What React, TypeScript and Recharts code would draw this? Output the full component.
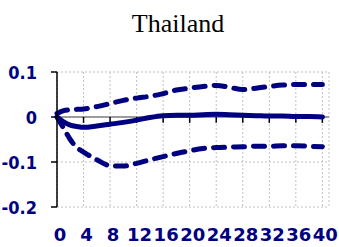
import React from "react";
import { LineChart, Line, XAxis, YAxis, CartesianGrid, ReferenceLine } from "recharts";

const horizon = [0, 1, 2, 3, 4, 6, 8, 10, 12, 14, 16, 18, 20, 22, 24, 26, 28, 30, 32, 34, 36, 38, 40];
const response = [0, -0.011, -0.018, -0.021, -0.023, -0.02, -0.016, -0.012, -0.007, -0.001, 0.003, 0.004, 0.004, 0.005, 0.006, 0.005, 0.004, 0.003, 0.002, 0.002, 0.001, 0.001, 0.0];
const upperBand = [0.008, 0.014, 0.016, 0.017, 0.018, 0.023, 0.03, 0.037, 0.042, 0.046, 0.052, 0.06, 0.064, 0.068, 0.07, 0.066, 0.061, 0.064, 0.068, 0.071, 0.072, 0.072, 0.072];
const lowerBand = [0.0, -0.025, -0.05, -0.068, -0.078, -0.095, -0.108, -0.109, -0.103, -0.095, -0.088, -0.081, -0.075, -0.07, -0.068, -0.067, -0.066, -0.065, -0.065, -0.064, -0.064, -0.065, -0.066];
const xTicks = [0, 4, 8, 12, 16, 20, 24, 28, 32, 36, 40];
const yTicks = [-0.2, -0.1, 0, 0.1];
const title = "Thailand";

const data = horizon.map((h, i) => ({ h, mid: response[i], hi: upperBand[i], lo: lowerBand[i] }));

const NAVY = "#000080";
const xTickFont = { fill: NAVY, fontWeight: 700, fontSize: 18, fontFamily: "DejaVu Sans", dx: 3 };
const yTickFont = { fill: NAVY, fontWeight: 700, fontSize: 18, fontFamily: "DejaVu Sans Condensed", dy: 1 };

export default function App() {
  return (
    <div style={{ position: "absolute", left: 0, top: 0, width: 339, height: 247, background: "#fff" }}>
      <div
        style={{
          position: "absolute",
          left: 0,
          top: 11,
          width: 356,
          textAlign: "center",
          fontFamily: "Liberation Serif",
          fontSize: 26,
          lineHeight: "26px",
          color: "#000",
        }}
      >
        {title}
      </div>
      <LineChart width={339} height={247} data={data} margin={{ top: 72, right: 10, bottom: 0, left: 0 }}>
        <CartesianGrid stroke="#c0c0c0" strokeDasharray="2 2" />
        <XAxis
          dataKey="h"
          type="number"
          domain={[0, 41]}
          ticks={xTicks}
          interval={0}
          height={40}
          axisLine={false}
          tickLine={false}
          tickSize={0}
          tickMargin={21}
          tick={xTickFont}
        />
        <YAxis
          type="number"
          domain={[-0.2, 0.1]}
          ticks={yTicks}
          width={57}
          axisLine={{ stroke: "#000", strokeWidth: 1.5 }}
          tickLine={{ stroke: "#000", strokeWidth: 1.5 }}
          tickSize={6}
          tickMargin={14}
          tick={yTickFont}
          tickFormatter={(v: number) => (v === 0 ? "0" : String(v))}
        />
        <ReferenceLine y={0} stroke="#808080" strokeWidth={1.5} />
        {xTicks.slice(1).map((t) => (
          <ReferenceLine
            key={t}
            segment={[{ x: t, y: 0 }, { x: t, y: -0.013 }]}
            stroke="#000"
            strokeWidth={1.5}
          />
        ))}
        <Line type="monotone" dataKey="hi" stroke={NAVY} strokeWidth={5} strokeDasharray="11 9" strokeLinecap="round" dot={false} isAnimationActive={false} />
        <Line type="monotone" dataKey="lo" stroke={NAVY} strokeWidth={5} strokeDasharray="11 9" strokeLinecap="round" dot={false} isAnimationActive={false} />
        <Line type="monotone" dataKey="mid" stroke={NAVY} strokeWidth={5} strokeLinecap="round" dot={false} isAnimationActive={false} />
      </LineChart>
    </div>
  );
}
